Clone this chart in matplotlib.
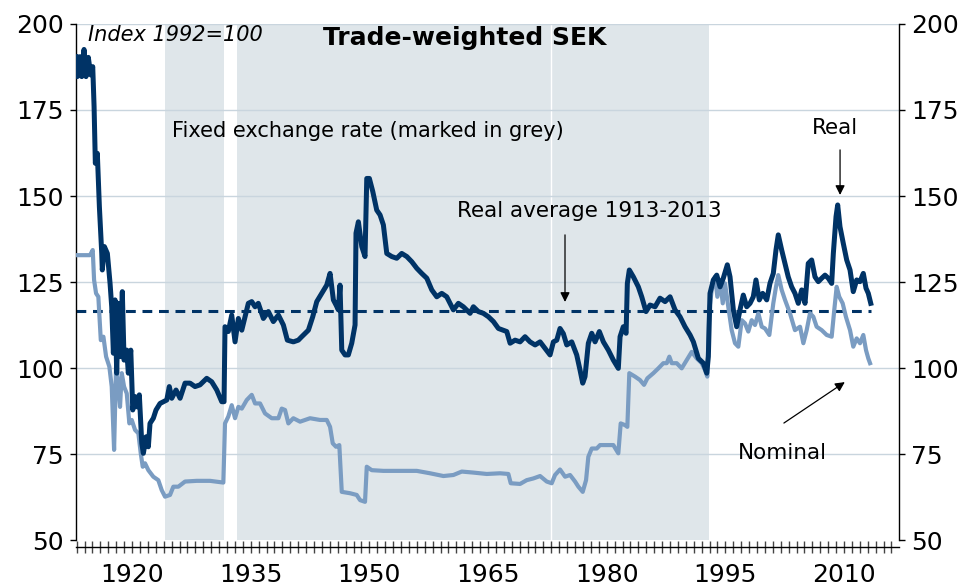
"""
Trade-weighted SEK, real and nominal, 1913-2013.
"""

import matplotlib
matplotlib.use('Agg')
import matplotlib.pyplot as plt
from matplotlib.ticker import MultipleLocator

# values (index 1992=100)
real_years = [1912.92, 1913.08, 1913.43, 1913.64, 1913.93, 1914.18, 1914.47, 1914.78,
              1915.03, 1915.2, 1915.36, 1915.61, 1915.87, 1916.17, 1916.24, 1916.5,
              1916.88, 1917.22, 1917.43, 1917.64, 1917.85, 1918.06, 1918.27, 1918.48,
              1918.77, 1918.99, 1919.33, 1919.53, 1919.84, 1920.09, 1920.38, 1920.67,
              1920.92, 1921.23, 1921.43, 1921.77, 1922.06, 1922.27, 1922.69, 1923.03,
              1923.54, 1923.96, 1924.39, 1924.71, 1925.02, 1925.56, 1926.07, 1926.7,
              1927.33, 1927.96, 1928.59, 1929.44, 1930.07, 1930.71, 1931.34, 1931.63,
              1931.75, 1932.17, 1932.6, 1933.02, 1933.44, 1933.87, 1934.28, 1934.7,
              1935.13, 1935.55, 1935.96, 1936.6, 1937.23, 1937.86, 1938.5, 1939.13,
              1939.63, 1940.39, 1941.02, 1941.45, 1942.29, 1942.84, 1943.35, 1943.98,
              1944.61, 1945.03, 1945.45, 1945.79, 1946.08, 1946.29, 1946.51, 1946.93,
              1947.34, 1947.77, 1948.19, 1948.31, 1948.61, 1949.04, 1949.45, 1949.67,
              1950.0, 1950.43, 1950.93, 1951.35, 1951.77, 1952.2, 1952.83, 1953.46,
              1954.09, 1954.73, 1955.36, 1955.99, 1956.62, 1957.26, 1957.89, 1958.52,
              1959.15, 1959.78, 1960.62, 1961.25, 1961.88, 1962.73, 1963.15, 1963.78,
              1964.41, 1965.05, 1965.68, 1966.31, 1967.37, 1967.79, 1968.42, 1969.05,
              1969.68, 1970.31, 1970.95, 1971.58, 1972.21, 1972.84, 1973.26, 1973.69,
              1974.1, 1974.52, 1974.95, 1975.58, 1976.21, 1976.63, 1976.97, 1977.26,
              1977.68, 1978.11, 1978.53, 1979.07, 1979.58, 1980.21, 1980.84, 1981.47,
              1981.69, 1982.1, 1982.45, 1982.61, 1982.86, 1983.37, 1984.0, 1984.43,
              1984.97, 1985.48, 1986.11, 1986.74, 1987.38, 1988.01, 1988.64, 1989.27,
              1989.9, 1990.54, 1990.96, 1991.59, 1992.22, 1992.65, 1992.85, 1993.06,
              1993.48, 1993.91, 1994.33, 1994.74, 1995.25, 1995.59, 1996.01, 1996.43,
              1996.85, 1997.27, 1997.7, 1998.12, 1998.53, 1998.87, 1999.29, 1999.72,
              2000.23, 2000.64, 2001.06, 2001.4, 2001.69, 2002.12, 2002.54, 2002.95,
              2003.38, 2003.8, 2004.22, 2004.65, 2005.07, 2005.48, 2005.91, 2006.33,
              2006.75, 2007.18, 2007.6, 2008.01, 2008.44, 2008.65, 2008.99, 2009.2,
              2009.49, 2009.91, 2010.34, 2010.76, 2011.17, 2011.6, 2012.02, 2012.44,
              2012.78, 2013.07, 2013.38]
real_values = [190.5, 184.7, 190.5, 184.7, 192.6, 184.7, 190.3, 185.2,
               187.6, 176.0, 159.5, 162.4, 146.9, 133.3, 128.5, 135.3,
               133.3, 124.6, 117.8, 104.3, 119.8, 98.5, 118.8, 103.3,
               122.2, 102.3, 105.2, 98.5, 105.2, 87.8, 91.7, 88.7,
               92.2, 78.1, 75.2, 80.0, 77.1, 83.9, 85.4, 87.8,
               89.7, 90.2, 90.7, 94.6, 91.2, 93.6, 91.2, 95.6,
               95.6, 94.6, 95.1, 97.0, 96.0, 93.6, 90.2, 90.2,
               112.0, 110.6, 115.4, 107.6, 114.4, 111.0, 114.9, 118.8,
               119.3, 117.8, 118.8, 114.4, 116.4, 113.5, 115.4, 112.5,
               108.1, 107.6, 108.1, 109.1, 111.0, 114.9, 119.3, 121.7,
               124.1, 127.5, 119.8, 118.3, 116.9, 124.1, 105.2, 103.8,
               103.8, 107.2, 112.5, 139.2, 142.5, 135.3, 132.4, 155.1,
               155.1, 151.3, 145.9, 144.5, 141.6, 133.3, 132.4, 131.9,
               133.3, 132.4, 130.9, 129.0, 127.5, 126.1, 122.7, 120.7,
               121.7, 120.7, 116.9, 118.8, 117.8, 115.9, 117.8, 116.4,
               115.9, 114.9, 113.5, 111.5, 110.6, 107.2, 108.1, 107.6,
               109.1, 107.6, 106.7, 107.6, 105.7, 103.8, 107.6, 108.1,
               111.5, 110.0, 106.7, 107.6, 103.8, 99.4, 95.6, 97.5,
               107.2, 110.1, 107.6, 110.6, 107.6, 105.2, 102.3, 99.9,
               109.1, 112.0, 110.1, 124.6, 128.5, 126.5, 123.6, 120.7,
               116.4, 118.3, 117.8, 120.3, 119.3, 120.7, 116.9, 114.9,
               112.0, 109.6, 107.6, 102.8, 101.4, 98.5, 103.3, 121.7,
               125.6, 127.0, 123.6, 126.1, 130.0, 126.5, 116.9, 112.0,
               116.9, 121.2, 117.8, 118.8, 120.7, 125.6, 119.8, 121.7,
               119.8, 124.6, 127.5, 134.3, 138.7, 134.3, 130.4, 126.5,
               123.6, 121.7, 118.8, 122.7, 118.8, 130.4, 131.4, 126.5,
               125.1, 126.1, 127.0, 126.1, 124.6, 133.3, 144.0, 147.4,
               141.1, 136.2, 131.4, 128.5, 122.2, 125.6, 125.1, 127.5,
               123.2, 121.7, 118.8]

nominal_years = [1912.92, 1914.69, 1915.03, 1915.2, 1915.45, 1915.74, 1916.05, 1916.38,
                 1916.72, 1917.13, 1917.43, 1917.73, 1917.98, 1918.27, 1918.48, 1918.7,
                 1918.99, 1919.33, 1919.66, 1919.96, 1920.38, 1920.8, 1921.1, 1921.35,
                 1921.64, 1922.06, 1922.69, 1923.32, 1923.75, 1924.17, 1924.8, 1925.22,
                 1925.85, 1926.7, 1928.18, 1929.86, 1931.54, 1931.75, 1932.17, 1932.6,
                 1933.02, 1933.44, 1933.87, 1934.5, 1935.13, 1935.55, 1936.18, 1936.81,
                 1937.66, 1938.5, 1938.92, 1939.34, 1939.76, 1940.39, 1941.24, 1942.5,
                 1943.76, 1944.61, 1945.03, 1945.37, 1945.79, 1946.2, 1946.51, 1947.56,
                 1948.4, 1948.82, 1949.45, 1949.67, 1950.3, 1951.77, 1953.88, 1955.99,
                 1957.67, 1959.36, 1960.62, 1961.68, 1963.15, 1964.84, 1966.52, 1967.57,
                 1967.87, 1969.05, 1969.89, 1970.73, 1971.58, 1972.42, 1973.05, 1973.47,
                 1974.1, 1974.74, 1975.37, 1976.0, 1976.42, 1976.97, 1977.39, 1977.68,
                 1978.11, 1978.74, 1979.16, 1980.0, 1980.84, 1981.47, 1981.77, 1982.32,
                 1982.61, 1982.86, 1983.58, 1984.21, 1984.72, 1985.14, 1985.9, 1986.53,
                 1987.16, 1987.59, 1987.92, 1988.22, 1988.85, 1989.48, 1990.12, 1990.75,
                 1991.38, 1992.01, 1992.43, 1992.72, 1992.97, 1993.28, 1993.7, 1993.99,
                 1994.33, 1994.67, 1994.96, 1995.37, 1995.8, 1996.22, 1996.64, 1997.07,
                 1997.48, 1997.9, 1998.33, 1998.75, 1999.17, 1999.6, 2000.01, 2000.56,
                 2001.06, 2001.4, 2001.69, 2002.12, 2002.54, 2003.17, 2003.8, 2004.44,
                 2004.86, 2005.28, 2005.7, 2006.12, 2006.54, 2007.18, 2007.81, 2008.44,
                 2008.77, 2009.07, 2009.4, 2009.83, 2010.24, 2010.76, 2011.17, 2011.6,
                 2012.02, 2012.44, 2012.78, 2013.07, 2013.29]
nominal_values = [132.8, 132.8, 134.3, 125.6, 121.7, 120.7, 108.1, 109.1,
                  103.3, 100.4, 94.6, 76.2, 100.4, 94.6, 88.7, 98.5,
                  94.6, 92.6, 83.9, 84.9, 82.0, 81.0, 75.2, 71.3,
                  72.3, 70.3, 68.4, 67.4, 64.5, 62.6, 63.1, 65.5,
                  65.5, 67.0, 67.2, 67.2, 66.7, 83.9, 85.9, 89.2,
                  85.4, 88.7, 88.2, 90.7, 92.2, 89.7, 89.7, 86.8,
                  85.4, 85.4, 88.2, 87.8, 83.9, 85.4, 84.4, 85.4,
                  84.9, 84.9, 82.9, 78.1, 77.1, 77.6, 64.0, 63.6,
                  63.1, 61.6, 61.1, 71.3, 70.3, 70.1, 70.1, 70.1,
                  69.4, 68.6, 68.9, 69.9, 69.6, 69.2, 69.4, 69.2,
                  66.5, 66.3, 67.4, 67.9, 68.6, 67.0, 66.5, 68.9,
                  70.5, 68.4, 68.9, 67.0, 65.5, 64.0, 67.4, 74.2,
                  76.6, 76.6, 77.6, 77.6, 77.6, 75.2, 83.9, 83.4,
                  82.9, 98.5, 97.5, 96.5, 95.1, 97.0, 98.5, 99.9,
                  101.4, 101.4, 103.3, 101.4, 101.4, 99.9, 102.3, 104.7,
                  102.8, 101.4, 99.4, 97.5, 116.9, 122.7, 126.5, 120.7,
                  125.6, 118.8, 124.6, 117.8, 111.0, 107.2, 106.2, 113.9,
                  113.0, 110.6, 113.9, 112.5, 115.9, 112.0, 111.5, 109.6,
                  118.8, 123.6, 127.0, 122.7, 119.8, 115.9, 111.0, 112.0,
                  107.2, 111.0, 115.9, 114.9, 112.0, 111.0, 109.6, 109.1,
                  116.9, 123.6, 120.7, 118.8, 114.9, 111.0, 106.2, 108.6,
                  107.2, 109.6, 105.2, 102.8, 101.4]

# real average 1913-2013
real_avg = 116.7
avg_span = [1912.92, 2013.4]

# fixed exchange rate periods (grey) and break within the second one
fixed_periods = [(1924.2, 1931.6), (1933.3, 1992.9)]
fixed_break = 1973.0

xlim = (1912.92, 2016.95)
ylim = (50, 200)
yticks = [50, 75, 100, 125, 150, 175, 200]
xticks = [1920, 1935, 1950, 1965, 1980, 1995, 2010]

REAL_COLOR = '#003366'
NOMINAL_COLOR = '#7a9cc2'
SHADE_COLOR = '#dfe6ea'
GRID_COLOR = '#c9d5de'

plt.rc('font', family='DejaVu Sans')

# initialize figure
fig = plt.figure(figsize=(9.65, 5.88), dpi=100)
ax = fig.add_axes([0.0788, 0.0816, 0.8528, 0.8776])

# fixed exchange rate periods
for start, end in fixed_periods:
    ax.axvspan(start, end, color=SHADE_COLOR, lw=0, zorder=0)
ax.axvline(fixed_break, color='white', lw=1.0, zorder=0.5)

# grid
for y in yticks[1:]:
    ax.axhline(y, color=GRID_COLOR, lw=1.0, zorder=1)

# series
ax.plot(nominal_years, nominal_values, color=NOMINAL_COLOR, lw=3.0,
        solid_joinstyle='round', zorder=3)
ax.plot(real_years, real_values, color=REAL_COLOR, lw=3.6,
        solid_joinstyle='round', zorder=4)
ax.plot(avg_span, [real_avg, real_avg], color=REAL_COLOR, lw=2.2,
        dashes=(3.2, 2.2), zorder=2)

# axes
ax.set_xlim(*xlim)
ax.set_ylim(*ylim)
ax.set_yticks(yticks)
ax.set_xticks(xticks)
ax.xaxis.set_minor_locator(MultipleLocator(1))
ax.spines['top'].set_visible(False)
ax.spines['bottom'].set_position(('outward', 5))
for side in ['left', 'right', 'bottom']:
    ax.spines[side].set_linewidth(1.0)
ax.tick_params(axis='y', which='both', left=True, right=True,
               labelleft=True, labelright=True, direction='out',
               length=4, width=1, pad=5, labelsize=18)
ax.tick_params(axis='x', which='both', direction='inout', length=9,
               width=1, color='#444444')
ax.tick_params(axis='x', which='major', labelsize=18, pad=7)

# texts
ax.text(1962.1, 195.9, 'Trade-weighted SEK', ha='center', va='center',
        fontsize=18, fontweight='bold')
ax.text(1914.4, 196.8, 'Index 1992=100', ha='left', va='center',
        fontsize=15, style='italic')
ax.text(1925.06, 168.9, 'Fixed exchange rate (marked in grey)', ha='left',
        va='center', fontsize=15)
ax.text(1961.1, 145.6, 'Real average 1913-2013', ha='left', va='center',
        fontsize=15.5)
ax.text(2005.96, 169.8, 'Real', ha='left', va='center', fontsize=15.5)
ax.text(1996.6, 75.3, 'Nominal', ha='left', va='center', fontsize=15.5)

# arrows
arrow = dict(arrowstyle='-|>', color='black', lw=0.9, mutation_scale=14,
             shrinkA=0, shrinkB=0)
ax.annotate('', xy=(1974.73, 119.2), xytext=(1974.73, 138.7), arrowprops=arrow)
ax.annotate('', xy=(2009.5, 150.3), xytext=(2009.5, 163.4), arrowprops=arrow)
ax.annotate('', xy=(2010.1, 95.9), xytext=(2002.4, 84.0), arrowprops=arrow)

fig.savefig('out.png', dpi=100)
